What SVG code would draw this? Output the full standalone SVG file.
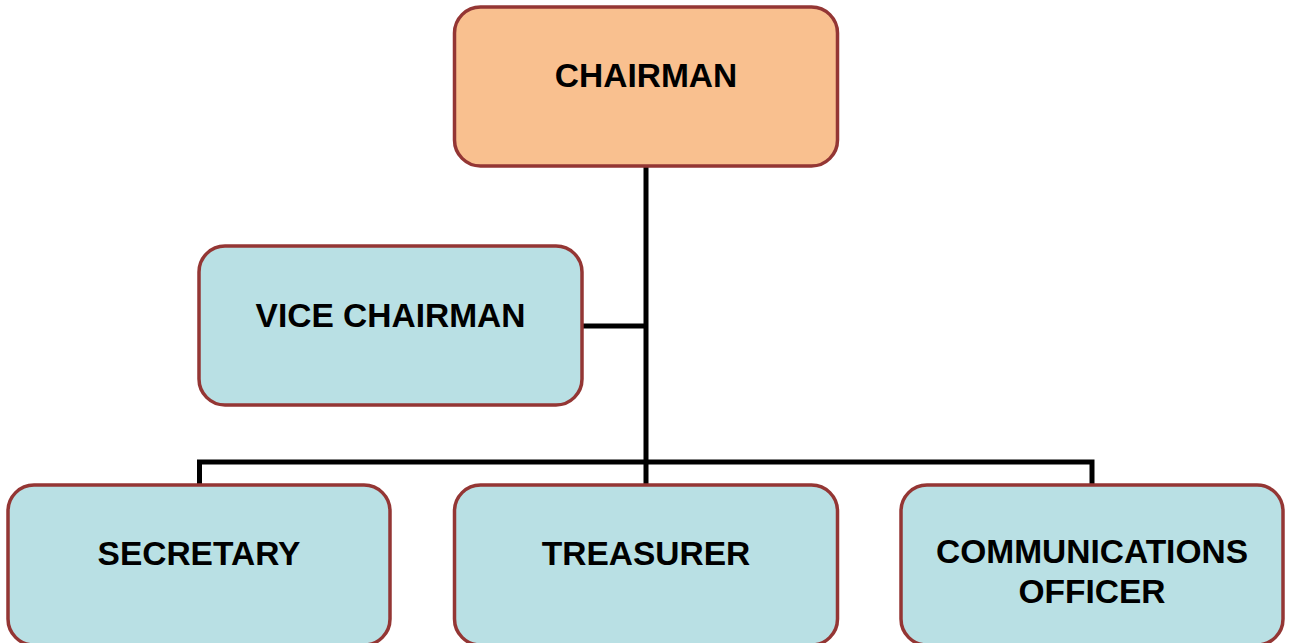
<svg xmlns="http://www.w3.org/2000/svg" width="1295" height="643" viewBox="0 0 1295 643">
<style>
.box{stroke:#943634;stroke-width:3.5}
.top{fill:#F9C08F}
.sub{fill:#B9E0E4}
.lbl{font-family:"Liberation Sans",Arial,sans-serif;font-weight:bold;font-size:33.5px;fill:#000;text-anchor:middle}
.con{fill:none;stroke:#000;stroke-width:5}
</style>
<rect width="1295" height="643" fill="#fff"/>
<g id="connectors">
<path class="con" d="M646,166 V485"/>
<path class="con" d="M583,326 H646"/>
<path class="con" d="M199.5,485 V462 H1092 V485"/>
</g>
<g id="chairman">
<rect class="box top" x="454.5" y="7" width="383" height="159" rx="26"/>
<text class="lbl" x="646" y="87">CHAIRMAN</text>
</g>
<g id="vice-chairman">
<rect class="box sub" x="199" y="246" width="383" height="159" rx="26"/>
<text class="lbl" x="390.5" y="327">VICE CHAIRMAN</text>
</g>
<g id="secretary">
<rect class="box sub" x="8" y="485" width="382" height="160" rx="26"/>
<text class="lbl" x="199" y="565">SECRETARY</text>
</g>
<g id="treasurer">
<rect class="box sub" x="454.5" y="485" width="383" height="160" rx="26"/>
<text class="lbl" x="646" y="565">TREASURER</text>
</g>
<g id="communications-officer">
<rect class="box sub" x="901" y="485" width="382" height="160" rx="26"/>
<text class="lbl" x="1092" y="563">COMMUNICATIONS</text>
<text class="lbl" x="1092" y="603">OFFICER</text>
</g>
</svg>
